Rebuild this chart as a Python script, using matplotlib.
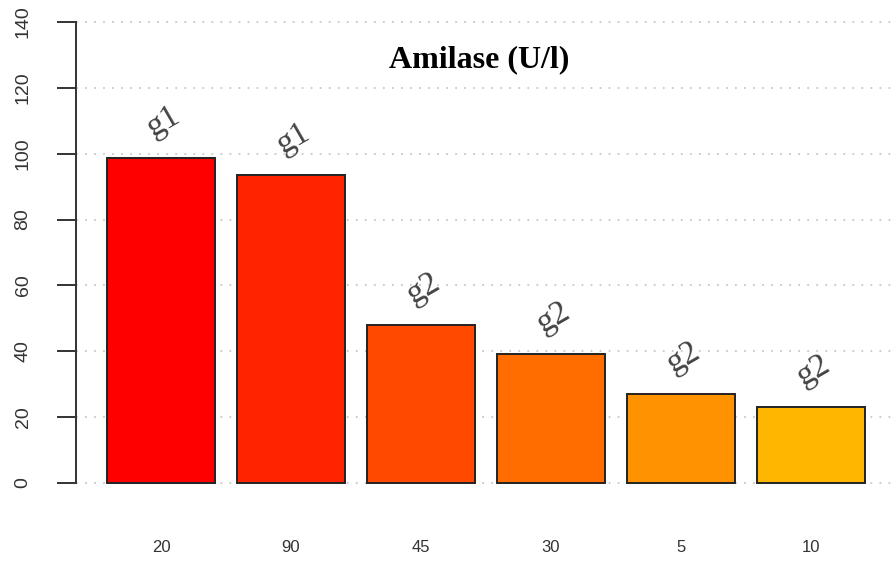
import matplotlib
matplotlib.use('Agg')
import matplotlib.pyplot as plt
import numpy as np

# values
categories = ['20', '90', '45', '30', '5', '10']
values = [98.7, 93.6, 48.1, 39.2, 27.1, 23.2]
groups = ['g1', 'g1', 'g2', 'g2', 'g2', 'g2']
colors = ['#FF0000', '#FF2400', '#FF4900', '#FF6D00', '#FF9200', '#FFB600']
yticks = [0, 20, 40, 60, 80, 100, 120, 140]

fig = plt.figure(figsize=(8.96, 5.65), dpi=100)
W, H = 896, 565
# axes box in pixels: left 76, right 896, y=0 at 483, y=140 at 22
ax = fig.add_axes([76 / W, (H - 483) / H, (896 - 76) / W, (483 - 22) / H])

x = np.arange(len(values))
ax.bar(x, values, width=1 / 1.2, color=colors, edgecolor='#222222',
       linewidth=1.4, zorder=3, clip_on=False)

for yv in yticks:
    ax.axhline(yv, color='#c8c8c8', linestyle=(0, (1, 4)), linewidth=1.3,
               zorder=1, clip_on=False)

for xi, v, g in zip(x, values, groups):
    ax.text(xi + 0.02, v + 11, g, ha='center', va='center', rotation=30,
            fontsize=24, family='Liberation Serif', color='#444444')

ax.text(2.45, 128.5, 'Amilase (U/l)', ha='center', va='center',
        fontsize=23, fontweight='bold', family='Liberation Serif')

ax.set_xlim(-0.654, 5.654)
ax.set_ylim(0, 140)

for s in ['top', 'right', 'bottom']:
    ax.spines[s].set_visible(False)
ax.spines['left'].set_linewidth(1.4)
ax.spines['left'].set_color('#333333')

ax.set_yticks(yticks)
ax.set_yticklabels([str(t) for t in yticks], rotation=90, va='center',
                   fontsize=14, family='Liberation Sans', color='#333333')
ax.tick_params(axis='y', length=14, width=1.4, color='#333333', pad=18)

ax.set_xticks(x)
ax.set_xticklabels(categories, fontsize=12, family='Liberation Sans',
                   color='#333333')
ax.tick_params(axis='x', length=0, pad=41)

fig.savefig('out.png', dpi=100)
